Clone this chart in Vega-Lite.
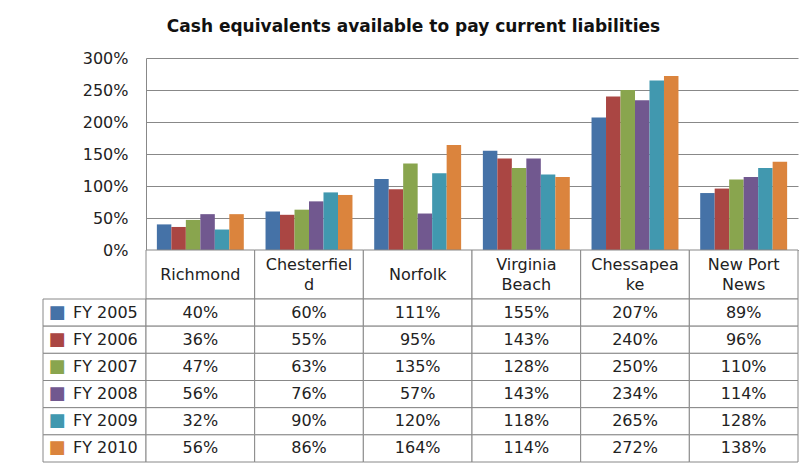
{
  "$schema": "https://vega.github.io/schema/vega-lite/v6.json",
  "padding": {"left": 42, "top": 18, "right": 10, "bottom": 5},
  "background": "white",
  "title": {
    "text": "Cash equivalents available to pay current liabilities",
    "anchor": "middle",
    "font": "DejaVu Sans",
    "fontSize": 17,
    "fontWeight": "bold",
    "color": "#111111",
    "baseline": "alphabetic",
    "offset": 1,
    "dx": -7
  },
  "data": {
    "values": [
      {"city": "Richmond", "year": "FY 2005", "value": 0.40},
      {"city": "Richmond", "year": "FY 2006", "value": 0.36},
      {"city": "Richmond", "year": "FY 2007", "value": 0.47},
      {"city": "Richmond", "year": "FY 2008", "value": 0.56},
      {"city": "Richmond", "year": "FY 2009", "value": 0.32},
      {"city": "Richmond", "year": "FY 2010", "value": 0.56},
      {"city": "Chesterfield", "year": "FY 2005", "value": 0.60},
      {"city": "Chesterfield", "year": "FY 2006", "value": 0.55},
      {"city": "Chesterfield", "year": "FY 2007", "value": 0.63},
      {"city": "Chesterfield", "year": "FY 2008", "value": 0.76},
      {"city": "Chesterfield", "year": "FY 2009", "value": 0.90},
      {"city": "Chesterfield", "year": "FY 2010", "value": 0.86},
      {"city": "Norfolk", "year": "FY 2005", "value": 1.11},
      {"city": "Norfolk", "year": "FY 2006", "value": 0.95},
      {"city": "Norfolk", "year": "FY 2007", "value": 1.35},
      {"city": "Norfolk", "year": "FY 2008", "value": 0.57},
      {"city": "Norfolk", "year": "FY 2009", "value": 1.20},
      {"city": "Norfolk", "year": "FY 2010", "value": 1.64},
      {"city": "Virginia Beach", "year": "FY 2005", "value": 1.55},
      {"city": "Virginia Beach", "year": "FY 2006", "value": 1.43},
      {"city": "Virginia Beach", "year": "FY 2007", "value": 1.28},
      {"city": "Virginia Beach", "year": "FY 2008", "value": 1.43},
      {"city": "Virginia Beach", "year": "FY 2009", "value": 1.18},
      {"city": "Virginia Beach", "year": "FY 2010", "value": 1.14},
      {"city": "Chessapeake", "year": "FY 2005", "value": 2.07},
      {"city": "Chessapeake", "year": "FY 2006", "value": 2.40},
      {"city": "Chessapeake", "year": "FY 2007", "value": 2.50},
      {"city": "Chessapeake", "year": "FY 2008", "value": 2.34},
      {"city": "Chessapeake", "year": "FY 2009", "value": 2.65},
      {"city": "Chessapeake", "year": "FY 2010", "value": 2.72},
      {"city": "New Port News", "year": "FY 2005", "value": 0.89},
      {"city": "New Port News", "year": "FY 2006", "value": 0.96},
      {"city": "New Port News", "year": "FY 2007", "value": 1.10},
      {"city": "New Port News", "year": "FY 2008", "value": 1.14},
      {"city": "New Port News", "year": "FY 2009", "value": 1.28},
      {"city": "New Port News", "year": "FY 2010", "value": 1.38}
    ]
  },
  "columns": 2,
  "bounds": "flush",
  "spacing": {"row": 0, "column": 0},
  "concat": [
    {
      "width": 103,
      "height": 192,
      "transform": [{"filter": "false"}],
      "mark": {"type": "point", "opacity": 0},
      "encoding": {}
    },
    {
      "width": 652,
      "height": 192,
      "mark": {"type": "bar"},
      "encoding": {
        "x": {
          "field": "city",
          "type": "nominal",
          "sort": ["Richmond", "Chesterfield", "Norfolk", "Virginia Beach", "Chessapeake", "New Port News"],
          "scale": {"paddingInner": 0.2, "paddingOuter": 0.1},
          "axis": {
            "title": null,
            "domain": true,
            "domainColor": "#888888",
            "ticks": false,
            "labels": false
          }
        },
        "xOffset": {"field": "year", "type": "nominal", "sort": null},
        "y": {
          "field": "value",
          "type": "quantitative",
          "scale": {"domain": [0, 3], "nice": false},
          "axis": {
            "title": null,
            "values": [0, 0.5, 1, 1.5, 2, 2.5, 3],
            "format": ".0%",
            "grid": true,
            "gridColor": "#888888",
            "domain": true,
            "domainColor": "#888888",
            "ticks": false,
            "labelPadding": 18,
            "labelFont": "DejaVu Sans",
            "labelFontSize": 16,
            "labelColor": "#222222"
          }
        },
        "color": {
          "field": "year",
          "type": "nominal",
          "sort": null,
          "scale": {
            "domain": ["FY 2005", "FY 2006", "FY 2007", "FY 2008", "FY 2009", "FY 2010"],
            "range": ["#4572A7", "#AA4643", "#89A54E", "#71588F", "#4198AF", "#DB843D"]
          },
          "legend": null
        }
      }
    },
    {
      "width": 103,
      "height": 49,
      "transform": [{"filter": "false"}],
      "mark": {"type": "point", "opacity": 0},
      "encoding": {}
    },
    {
      "width": 652,
      "height": 49,
      "transform": [{"aggregate": [], "groupby": ["city"]}],
      "encoding": {
        "x": {
          "field": "city",
          "type": "nominal",
          "sort": ["Richmond", "Chesterfield", "Norfolk", "Virginia Beach", "Chessapeake", "New Port News"],
          "scale": {"paddingInner": 0, "paddingOuter": 0},
          "axis": null
        }
      },
      "layer": [
        {"mark": {"type": "rect", "fill": "white", "stroke": "#888888", "strokeWidth": 1}},
        {
          "transform": [{"filter": "datum.city == 'Richmond' || datum.city == 'Norfolk'"}],
          "mark": {"type": "text", "font": "DejaVu Sans", "fontSize": 16, "color": "#222222", "baseline": "middle"},
          "encoding": {"text": {"field": "city"}}
        },
        {
          "transform": [{"filter": "datum.city != 'Richmond' && datum.city != 'Norfolk'"}],
          "mark": {"type": "text", "font": "DejaVu Sans", "fontSize": 16, "color": "#222222", "baseline": "middle", "lineHeight": 20, "dy": -10},
          "encoding": {
            "text": {
              "condition": [
                {"test": "datum.city == 'Chesterfield'", "value": ["Chesterfiel", "d"]},
                {"test": "datum.city == 'Virginia Beach'", "value": ["Virginia", "Beach"]},
                {"test": "datum.city == 'Chessapeake'", "value": ["Chessapea", "ke"]},
                {"test": "datum.city == 'New Port News'", "value": ["New Port", "News"]}
              ],
              "field": "city"
            }
          }
        }
      ]
    },
    {
      "width": 103,
      "height": 163,
      "transform": [{"aggregate": [], "groupby": ["year"]}],
      "encoding": {
        "y": {"field": "year", "type": "nominal", "sort": null, "scale": {"paddingInner": 0, "paddingOuter": 0}, "axis": null}
      },
      "layer": [
        {"mark": {"type": "rect", "fill": "white", "stroke": "#888888", "strokeWidth": 1}},
        {
          "mark": {"type": "text", "align": "center", "baseline": "middle", "dx": -37.5, "font": "DejaVu Sans", "fontSize": 18},
          "encoding": {
            "text": {"value": "■"},
            "color": {"field": "year", "type": "nominal", "sort": null, "legend": null}
          }
        },
        {
          "mark": {"type": "text", "align": "left", "dx": -21.5, "font": "DejaVu Sans", "fontSize": 16, "color": "#222222"},
          "encoding": {"text": {"field": "year"}}
        }
      ]
    },
    {
      "width": 652,
      "height": 163,
      "encoding": {
        "x": {
          "field": "city",
          "type": "nominal",
          "sort": ["Richmond", "Chesterfield", "Norfolk", "Virginia Beach", "Chessapeake", "New Port News"],
          "scale": {"paddingInner": 0, "paddingOuter": 0},
          "axis": null
        },
        "y": {"field": "year", "type": "nominal", "sort": null, "scale": {"paddingInner": 0, "paddingOuter": 0}, "axis": null}
      },
      "layer": [
        {"mark": {"type": "rect", "fill": "white", "stroke": "#888888", "strokeWidth": 1}},
        {
          "mark": {"type": "text", "font": "DejaVu Sans", "fontSize": 16, "color": "#222222"},
          "encoding": {"text": {"field": "value", "type": "quantitative", "format": ".0%"}}
        }
      ]
    }
  ],
  "config": {
    "view": {"stroke": null},
    "font": "DejaVu Sans"
  }
}
